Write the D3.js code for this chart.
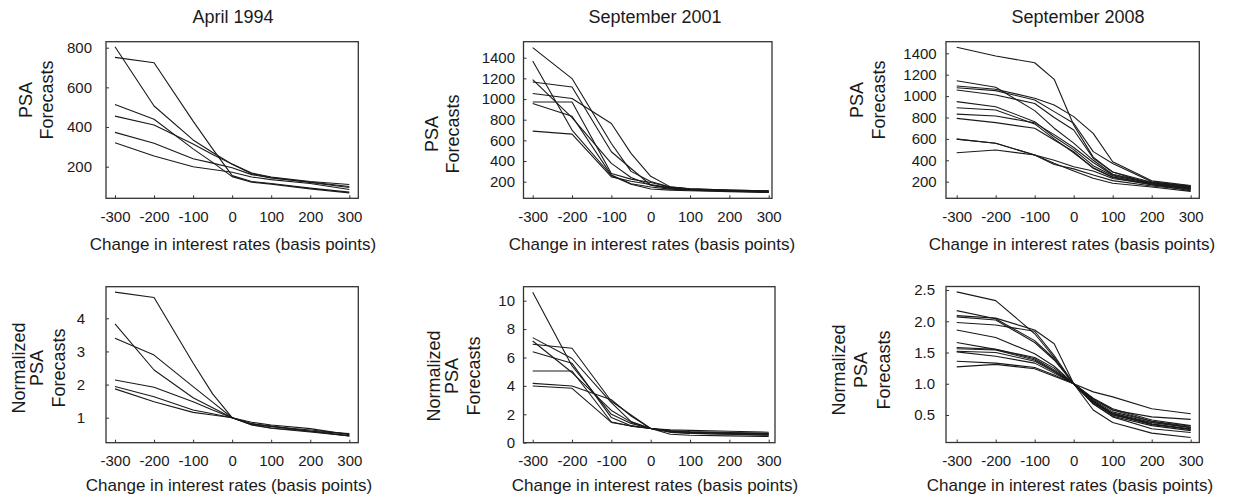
<!DOCTYPE html>
<html><head><meta charset="utf-8">
<script src="https://cdn.jsdelivr.net/npm/d3@7"></script>
<style>
body{margin:0;background:#fff}
svg{display:block}
text{font-family:"Liberation Sans",Arial,sans-serif;fill:#1a1a1a}
</style>
</head><body>
<svg id="chart" width="1235" height="500"></svg>
<script>
// ---------- data ----------
const rates = [-300, -200, -100, -50, 0, 50, 100, 200, 300];
const xTickValues = [-300, -200, -100, 0, 100, 200, 300];

const titles = ["April 1994", "September 2001", "September 2008"];
const xAxisTitle = "Change in interest rates (basis points)";
const psaLabel = ["PSA", "Forecasts"];
const normLabel = ["Normalized", "PSA", "Forecasts"];

const psaTicks1994 = [200, 400, 600, 800];
const psaTicks2001 = [200, 400, 600, 800, 1000, 1200, 1400];
const psaTicks2008 = [200, 400, 600, 800, 1000, 1200, 1400];
const normTicks1994 = [1, 2, 3, 4];
const normTicks2001 = [0, 2, 4, 6, 8, 10];
const normTicks2008 = [0.5, 1.0, 1.5, 2.0, 2.5];

const psa1994 = [
  [805, 506, 335, 272, 212, 165, 145, 120, 95],
  [751, 724, 430, 290, 155, 125, 115, 92, 72],
  [514, 439, 290, 222, 150, 122, 112, 88, 68],
  [455, 410, 315, 262, 213, 168, 148, 125, 110],
  [373, 318, 240, 218, 195, 160, 143, 122, 100],
  [321, 254, 200, 186, 172, 148, 135, 115, 85]
];
const psa2001 = [
  [1497, 1198, 570, 300, 202, 148, 132, 120, 112],
  [1368, 700, 260, 175, 129, 118, 112, 104, 96],
  [1188, 820, 377, 240, 166, 135, 122, 112, 104],
  [1165, 1117, 490, 328, 168, 138, 125, 115, 106],
  [1053, 1005, 763, 474, 252, 150, 132, 120, 110],
  [972, 972, 280, 225, 192, 146, 128, 115, 100],
  [956, 833, 264, 180, 149, 128, 118, 108, 100],
  [689, 660, 247, 205, 173, 140, 125, 112, 102]
];
const psa2008 = [
  [1456, 1374, 1312, 1157, 730, 430, 290, 175, 115],
  [1144, 1083, 864, 700, 560, 400, 270, 190, 150],
  [1094, 1064, 980, 917, 808, 652, 387, 208, 165],
  [1078, 1051, 963, 855, 746, 481, 370, 200, 160],
  [1057, 1011, 931, 800, 683, 419, 290, 195, 155],
  [948, 901, 761, 620, 500, 350, 255, 185, 145],
  [891, 870, 740, 600, 470, 330, 245, 180, 140],
  [832, 814, 750, 640, 520, 380, 262, 190, 150],
  [792, 752, 699, 590, 480, 325, 240, 170, 135],
  [598, 559, 450, 372, 300, 232, 185, 150, 110],
  [598, 559, 450, 360, 320, 263, 210, 160, 125],
  [470, 496, 450, 400, 340, 300, 230, 175, 130]
];
const norm1994 = [
  [4.79, 4.63, 2.65, 1.72, 1, 0.81, 0.74, 0.59, 0.46],
  [3.83, 2.44, 1.60, 1.30, 1, 0.78, 0.68, 0.57, 0.45],
  [3.40, 2.89, 1.94, 1.47, 1, 0.81, 0.75, 0.59, 0.45],
  [2.14, 1.92, 1.48, 1.23, 1, 0.79, 0.69, 0.59, 0.52],
  [1.94, 1.63, 1.23, 1.12, 1, 0.82, 0.73, 0.63, 0.51],
  [1.87, 1.48, 1.16, 1.08, 1, 0.86, 0.78, 0.67, 0.49]
];
const norm2001 = [
  [7.40, 5.93, 2.82, 1.49, 1, 0.73, 0.65, 0.59, 0.55],
  [10.59, 5.40, 2.00, 1.36, 1, 0.91, 0.87, 0.81, 0.74],
  [7.16, 4.94, 2.27, 1.45, 1, 0.81, 0.73, 0.67, 0.63],
  [6.93, 6.65, 2.92, 1.95, 1, 0.82, 0.74, 0.68, 0.63],
  [4.18, 3.99, 3.03, 1.88, 1, 0.60, 0.52, 0.48, 0.44],
  [5.05, 5.05, 1.46, 1.17, 1, 0.76, 0.67, 0.60, 0.52],
  [6.41, 5.59, 1.77, 1.20, 1, 0.86, 0.79, 0.72, 0.67],
  [3.99, 3.83, 1.43, 1.18, 1, 0.81, 0.72, 0.65, 0.59]
];
const norm2008 = [
  [2.47, 2.33, 1.80, 1.42, 1, 0.72, 0.50, 0.38, 0.30],
  [2.17, 2.04, 1.69, 1.40, 1, 0.76, 0.58, 0.47, 0.43],
  [2.09, 2.05, 1.86, 1.64, 1, 0.58, 0.38, 0.21, 0.14],
  [2.07, 2.02, 1.66, 1.38, 1, 0.70, 0.52, 0.35, 0.27],
  [1.98, 1.94, 1.84, 1.45, 1, 0.68, 0.48, 0.33, 0.25],
  [1.86, 1.74, 1.48, 1.28, 1, 0.72, 0.53, 0.38, 0.30],
  [1.66, 1.55, 1.42, 1.25, 1, 0.74, 0.55, 0.40, 0.32],
  [1.58, 1.55, 1.40, 1.22, 1, 0.77, 0.60, 0.42, 0.33],
  [1.56, 1.54, 1.38, 1.20, 1, 0.70, 0.50, 0.35, 0.28],
  [1.52, 1.50, 1.36, 1.19, 1, 0.72, 0.52, 0.36, 0.27],
  [1.51, 1.44, 1.33, 1.17, 1, 0.87, 0.79, 0.60, 0.52],
  [1.36, 1.33, 1.26, 1.14, 1, 0.76, 0.58, 0.40, 0.30],
  [1.27, 1.31, 1.24, 1.12, 1, 0.68, 0.47, 0.28, 0.22]
];

// ---------- layout ----------
const intFmt = d => String(d);
const oneDec = d => d.toFixed(1);
const panels = [
  {series: psa1994, ticks: psaTicks1994, fmt: intFmt, xr: [115, 349.3], yd: [200, 800], yr: [166.7, 47.7],
   frame: [106, 41.7, 358.3, 198.3], ypad: 14, title: titles[0], titleX: 233,
   label: psaLabel, labelX: [31.7, 52.7], labelY: 100, xpad: 13.5, xtitleX: 233, xtitleY: 250},
  {series: psa2001, ticks: psaTicks2001, fmt: intFmt, xr: [532.7, 768.7], yd: [200, 1400], yr: [181.7, 57.7],
   frame: [523.5, 41.7, 772, 198.3], ypad: 8.5, title: titles[1], titleX: 655,
   label: psaLabel, labelX: [438.3, 459.3], labelY: 134, xpad: 13.5, xtitleX: 652, xtitleY: 250},
  {series: psa2008, ticks: psaTicks2008, fmt: intFmt, xr: [956.7, 1190.7], yd: [200, 1400], yr: [181.7, 53.3],
   frame: [946, 41.7, 1199.3, 198.3], ypad: 9.3, title: titles[2], titleX: 1078,
   label: psaLabel, labelX: [863.3, 885], labelY: 100, xpad: 13.5, xtitleX: 1072, xtitleY: 250},
  {series: norm1994, ticks: normTicks1994, fmt: intFmt, xr: [115, 349.3], yd: [1, 4], yr: [417.7, 318.3],
   frame: [106, 286.7, 358.3, 442.7], ypad: 21, title: null,
   label: normLabel, labelX: [25, 43.3, 65], labelY: 368, xpad: 12.7, xtitleX: 229, xtitleY: 491},
  {series: norm2001, ticks: normTicks2001, fmt: intFmt, xr: [532.7, 768.7], yd: [0, 10], yr: [442.7, 300.7],
   frame: [523.5, 286.7, 775, 442.7], ypad: 8.5, title: null,
   label: normLabel, labelX: [440, 458.3, 480], labelY: 376, xpad: 12.7, xtitleX: 655, xtitleY: 491},
  {series: norm2008, ticks: normTicks2008, fmt: oneDec, xr: [956.7, 1190.7], yd: [0.5, 2.5], yr: [415, 290],
   frame: [946, 286.5, 1199.3, 442.5], ypad: 11, title: null,
   label: normLabel, labelX: [845, 866.7, 890], labelY: 370, xpad: 12.7, xtitleX: 1070, xtitleY: 491}
];

const svg = d3.select("#chart");

panels.forEach(p => {
  const [fl, ft, fr, fb] = p.frame;
  const x = d3.scaleLinear().domain([-300, 300]).range(p.xr);
  const y = d3.scaleLinear().domain(p.yd).range(p.yr);
  const g = svg.append("g");

  const line = d3.line().x((d, i) => x(rates[i])).y(d => y(d));
  g.append("g").selectAll("path").data(p.series).join("path")
    .attr("d", line).attr("fill", "none").attr("stroke", "#1a1a1a")
    .attr("stroke-width", 1.1).attr("stroke-linejoin", "round");

  g.append("rect").attr("x", fl).attr("y", ft).attr("width", fr - fl).attr("height", fb - ft)
    .attr("fill", "none").attr("stroke", "#333").attr("stroke-width", 1.3);

  const ya = g.append("g").attr("transform", `translate(${fl},0)`)
    .call(d3.axisLeft(y).tickValues(p.ticks).tickFormat(p.fmt).tickSizeInner(-3).tickSizeOuter(0).tickPadding(p.ypad));
  ya.select(".domain").remove();
  ya.attr("font-family", null);
  ya.selectAll("text").attr("font-size", 15).attr("fill", "#1a1a1a");
  ya.selectAll("line").attr("stroke", "#333");

  const xa = g.append("g").attr("transform", `translate(0,${fb})`)
    .call(d3.axisBottom(x).tickValues(xTickValues).tickFormat(intFmt).tickSizeInner(-3).tickSizeOuter(0).tickPadding(p.xpad));
  xa.select(".domain").remove();
  xa.attr("font-family", null);
  xa.selectAll("text").attr("font-size", 15).attr("fill", "#1a1a1a");
  xa.selectAll("line").attr("stroke", "#333");

  g.append("text").attr("x", p.xtitleX).attr("y", p.xtitleY).attr("text-anchor", "middle")
    .attr("font-size", 17).text(xAxisTitle);

  if (p.title) {
    g.append("text").attr("x", p.titleX).attr("y", 23).attr("text-anchor", "middle")
      .attr("font-size", 18).text(p.title);
  }

  p.label.forEach((t, i) => {
    g.append("text").attr("transform", `translate(${p.labelX[i]},${p.labelY}) rotate(-90)`)
      .attr("text-anchor", "middle").attr("font-size", 18).text(t);
  });
});
</script>
</body></html>
